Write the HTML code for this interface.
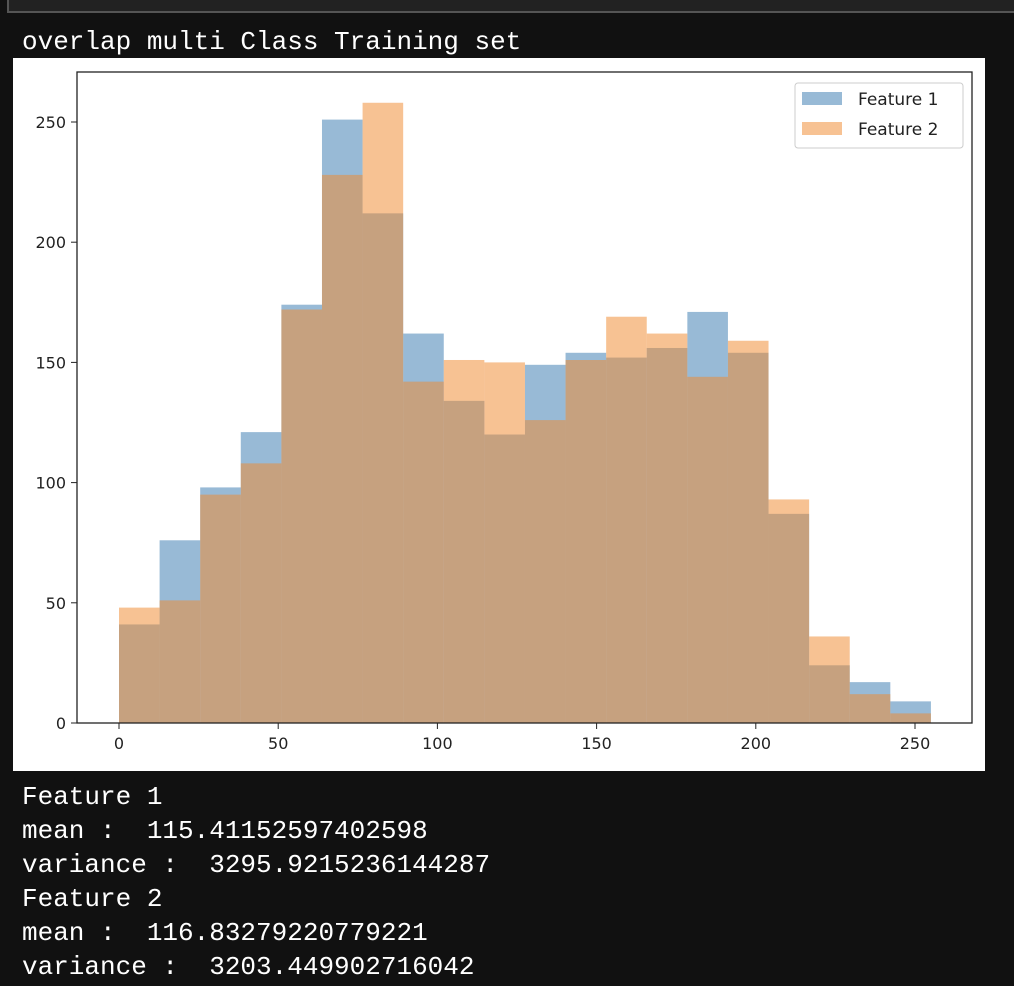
<!DOCTYPE html>
<html><head><meta charset="utf-8"><style>
body{margin:0;width:1014px;height:986px;background:#111;overflow:hidden;position:relative;font-family:"Liberation Mono",monospace;}
.topbar{position:absolute;left:7px;top:-2px;width:1010px;height:13px;background:#222;border-left:2px solid #555;border-bottom:2px solid #555;}
.txt{position:absolute;left:22px;color:#fff;font-size:26px;line-height:34px;white-space:pre;font-weight:normal;}
svg{position:absolute;left:0;top:0;}
</style></head><body>
<div class="topbar"></div>
<div class="txt" style="top:25px">overlap multi Class Training set</div>
<svg width="1014" height="986">
<rect x="13" y="58" width="972" height="713" fill="#fff"/>
<g id="bars"></g>
<g id="axes"></g>
<rect x="77" y="72" width="895" height="651" fill="none" stroke="#222" stroke-width="1.3"/>
<g>
<rect x="795" y="83" width="168" height="65" rx="3" fill="#fff" fill-opacity="0.8" stroke="#ccc"/>
<rect x="802" y="92" width="40" height="13" fill="#3a7ab0" fill-opacity="0.52"/>
<text x="858" y="105" font-family="DejaVu Sans,sans-serif" font-size="17" fill="#222">Feature 1</text>
<rect x="802" y="122" width="40" height="13" fill="#f08a30" fill-opacity="0.52"/>
<text x="858" y="135" font-family="DejaVu Sans,sans-serif" font-size="17" fill="#222">Feature 2</text>
</g>
</svg>
<div class="txt" style="top:780px">Feature 1
mean :  115.41152597402598
variance :  3295.9215236144287
Feature 2
mean :  116.83279220779221
variance :  3203.449902716042</div>
<script>
const binStart=0, binEnd=255, nBins=20;
const feature1=[41,76,98,121,174,251,212,162,134,120,149,154,152,156,171,154,87,24,17,9];
const feature2=[48,51,95,108,172,228,258,142,151,150,126,151,169,162,144,159,93,36,12,4];
const yTicks=[0,50,100,150,200,250];
const xTicks=[0,50,100,150,200,250];
const NS='http://www.w3.org/2000/svg';
const xs=v=>119+v*(915-119)/250;
const ys=v=>723-v*(723-122)/250;
const bars=document.getElementById('bars'),axes=document.getElementById('axes');
const w=(binEnd-binStart)/nBins;
function draw(data,color,name){
  data.forEach((v,i)=>{
    const r=document.createElementNS(NS,'rect');
    const x0=xs(binStart+i*w),x1=xs(binStart+(i+1)*w);
    r.setAttribute('x',x0);r.setAttribute('width',x1-x0);
    r.setAttribute('y',ys(v));r.setAttribute('height',ys(0)-ys(v));
    r.setAttribute('fill',color);r.setAttribute('fill-opacity','0.52');
    
    
    bars.appendChild(r);
  });
}
draw(feature1,'#3a7ab0','feature-1');
draw(feature2,'#f08a30','feature-2');
yTicks.forEach(t=>{
  const l=document.createElementNS(NS,'line');
  l.setAttribute('x1',71);l.setAttribute('x2',77);l.setAttribute('y1',ys(t));l.setAttribute('y2',ys(t));l.setAttribute('stroke','#222');
  
  
  axes.appendChild(l);
  const tx=document.createElementNS(NS,'text');
  tx.setAttribute('x',66);tx.setAttribute('y',ys(t)+6);tx.setAttribute('text-anchor','end');
  tx.setAttribute('font-family','DejaVu Sans,sans-serif');tx.setAttribute('font-size','16');tx.setAttribute('fill','#222');
  tx.textContent=t;
  
  
  axes.appendChild(tx);
});
xTicks.forEach(t=>{
  const l=document.createElementNS(NS,'line');
  l.setAttribute('x1',xs(t));l.setAttribute('x2',xs(t));l.setAttribute('y1',723);l.setAttribute('y2',729);l.setAttribute('stroke','#222');
  
  
  axes.appendChild(l);
  const tx=document.createElementNS(NS,'text');
  tx.setAttribute('x',xs(t));tx.setAttribute('y',749);tx.setAttribute('text-anchor','middle');
  tx.setAttribute('font-family','DejaVu Sans,sans-serif');tx.setAttribute('font-size','16');tx.setAttribute('fill','#222');
  tx.textContent=t;
  
  
  axes.appendChild(tx);
});
</script>
</body></html>
